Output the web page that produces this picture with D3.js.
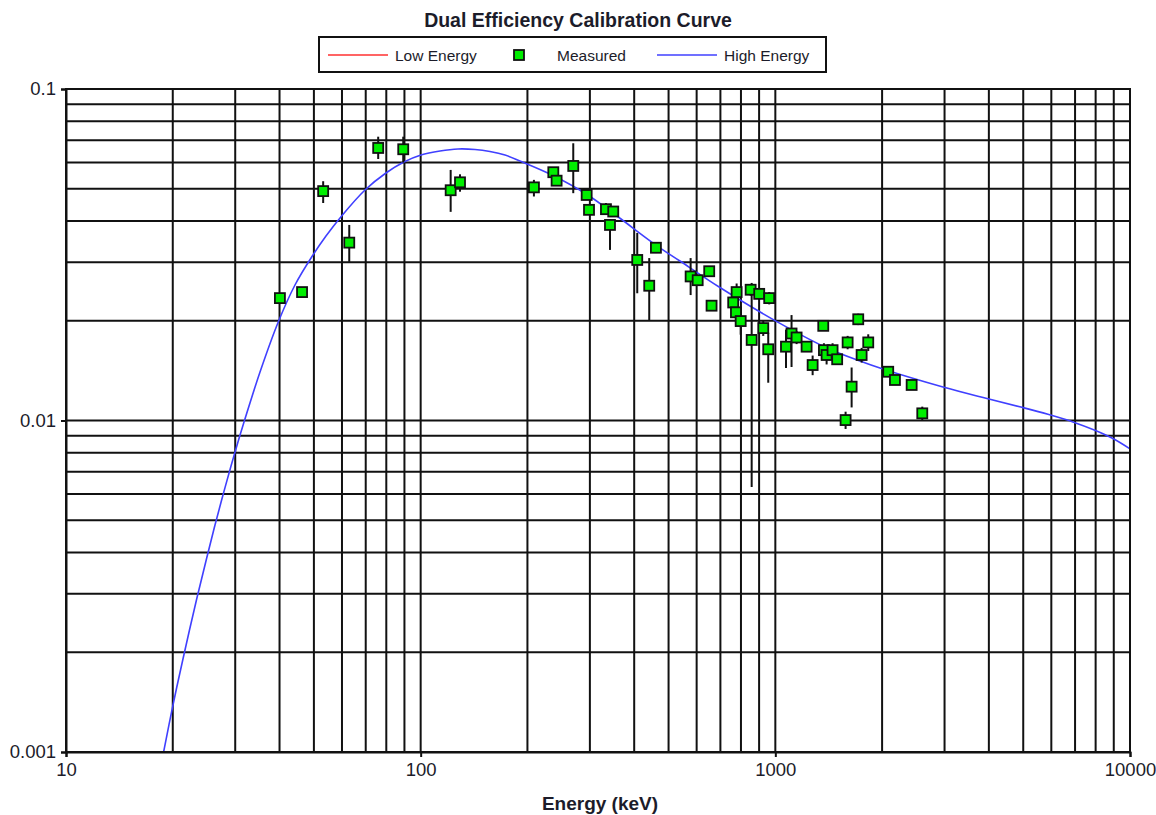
<!DOCTYPE html>
<html><head><meta charset="utf-8">
<script src="https://cdn.jsdelivr.net/npm/d3@7"></script>
<style>body{margin:0;background:#fff}</style>
</head><body>
<svg id="chart" width="1156" height="815"></svg>
<script>
// ---------- data ----------
const chartTitle = "Dual Efficiency Calibration Curve";
const xAxisTitle = "Energy (keV)";
const legendLabels = ["Low Energy", "Measured", "High Energy"];

const xTickValues = [10, 100, 1000, 10000];
const xTickLabels = ["10", "100", "1000", "10000"];
const yTickValues = [0.001, 0.01, 0.1];
const yTickLabels = ["0.001", "0.01", "0.1"];

// measured points (keV, efficiency, lower / upper uncertainty)
const energies = [40.1, 46.3, 53.1, 62.9, 75.9, 89.3, 121.5, 129.1, 208.6, 236.6, 241.7, 269.3, 293.8, 298.3, 333.0, 349.1, 341.8, 408, 441, 460.6, 577, 604, 651, 661, 760.7, 777.8, 774.4, 798.6, 851.9, 900.6, 961, 924.6, 857.6, 955, 1071.6, 1111, 1148, 1225, 1274, 1365, 1371, 1395, 1450, 1494, 1578, 1599, 1641, 1713, 1751, 1828, 2081, 2174, 2423, 2596];
const efficiencies = [0.0234, 0.0244, 0.0492, 0.0344, 0.0664, 0.0658, 0.0495, 0.0523, 0.0505, 0.0561, 0.0529, 0.0586, 0.0479, 0.0432, 0.0434, 0.0427, 0.0389, 0.0305, 0.0255, 0.0332, 0.0272, 0.0265, 0.0282, 0.0222, 0.0227, 0.0244, 0.0212, 0.01995, 0.0248, 0.0241, 0.0234, 0.0190, 0.0175, 0.0164, 0.0167, 0.0183, 0.0178, 0.0167, 0.0147, 0.0193, 0.0163, 0.01576, 0.0163, 0.0153, 0.01003, 0.0172, 0.01265, 0.0202, 0.01576, 0.0172, 0.01403, 0.01325, 0.0128, 0.01051];
const errMinus = [0.0006, 0.0005, 0.0039, 0.0043, 0.0049, 0.0058, 0.0069, 0.0033, 0.0031, 0.0015, 0.0015, 0.0101, 0.0015, 0.0015, 0.0015, 0.0012, 0.0062, 0.0063, 0.0054, 0.0012, 0.0033, 0.0008, 0.0008, 0.0008, 0.0015, 0.0015, 0.0020, 0.0018, 0.0010, 0.0010, 0.0010, 0.0010, 0.0112, 0.0034, 0.0023, 0.0038, 0.0008, 0.0006, 0.0010, 0.0005, 0.0008, 0.0010, 0.0008, 0.0005, 0.0006, 0.0008, 0.0017, 0.0008, 0.0008, 0.0010, 0.0004, 0.0004, 0.0004, 0.0005];
const errPlus = [0.0006, 0.0005, 0.0035, 0.0045, 0.0054, 0.0060, 0.0075, 0.0030, 0.0027, 0.0015, 0.0015, 0.0100, 0.0015, 0.0015, 0.0019, 0.0012, 0.0015, 0.0063, 0.0054, 0.0012, 0.0037, 0.0008, 0.0008, 0.0008, 0.0015, 0.0015, 0.0020, 0.0018, 0.0010, 0.0010, 0.0010, 0.0010, 0.0085, 0.0020, 0.0021, 0.0025, 0.0008, 0.0006, 0.0010, 0.0005, 0.0008, 0.0010, 0.0008, 0.0005, 0.0006, 0.0008, 0.0018, 0.0008, 0.0008, 0.0010, 0.0004, 0.0004, 0.0004, 0.0005];

// high-energy fit curve
const curveEnergies = [18.81, 20.03, 21.37, 23.36, 24.93, 26.31, 27.71, 29.19, 30.54, 31.61, 35.24, 39.67, 44.22, 49.28, 54.08, 59.87, 69.67, 79.82, 89.72, 100.2, 113.4, 127.4, 142.3, 156.8, 172.9, 190.5, 236.1, 294.4, 357.6, 460.6, 538.3, 698.0, 1010, 1398, 1732, 2011, 2969, 3950, 4957, 5869, 6903, 7962, 8949, 10000];
const curveEfficiencies = [0.00099, 0.001386, 0.001908, 0.002894, 0.003847, 0.004839, 0.005958, 0.007291, 0.008612, 0.009726, 0.01400, 0.01982, 0.02563, 0.03113, 0.03601, 0.04139, 0.04958, 0.05580, 0.06022, 0.06321, 0.06500, 0.06592, 0.06569, 0.06478, 0.06321, 0.06064, 0.05484, 0.04806, 0.04139, 0.03383, 0.03028, 0.02519, 0.01987, 0.01655, 0.01512, 0.01430, 0.01262, 0.01165, 0.01096, 0.01044, 0.00990, 0.00934, 0.00882, 0.00821];

// ---------- drawing ----------
(function () {
const FONT = "'Liberation Sans', Arial, sans-serif";
const svg = d3.select("#chart");
const W = 1156, H = 815;
const pL = 66, pR = 1130, pT = 89, pB = 752;

const x = d3.scaleLog().domain([10, 10000]).range([pL, pR]);
const y = d3.scaleLog().domain([0.001, 0.1]).range([pB, pT]);

svg.append("rect").attr("width", W).attr("height", H).attr("fill", "#fff");

// grid
const gridG = svg.append("g");
gridG.selectAll("line.vx").data(x.ticks()).join("line").attr("class", "vx")
  .attr("x1", d => x(d)).attr("x2", d => x(d))
  .attr("y1", pT).attr("y2", pB)
  .attr("stroke", "#111").attr("stroke-width", 2);
gridG.selectAll("line.hy").data(y.ticks()).join("line").attr("class", "hy")
  .attr("y1", d => y(d)).attr("y2", d => y(d))
  .attr("x1", pL).attr("x2", pR)
  .attr("stroke", "#111").attr("stroke-width", 2);

// axes (major ticks, labels)
const xAxis = d3.axisBottom(x).tickValues(xTickValues)
  .tickFormat((d, i) => xTickLabels[i]).tickSize(5).tickPadding(6);
const gx = svg.append("g").attr("transform", `translate(0,${pB})`).call(xAxis);
const yAxis = d3.axisLeft(y).tickValues(yTickValues)
  .tickFormat((d, i) => yTickLabels[i]).tickSize(5).tickPadding(5);
const gy = svg.append("g").attr("transform", `translate(${pL},0)`).call(yAxis);
[gx, gy].forEach(g => {
  g.select(".domain").attr("stroke", "#111").attr("stroke-width", 2);
  g.selectAll(".tick line").attr("stroke", "#111").attr("stroke-width", 2);
  g.selectAll("text").attr("font-family", FONT).attr("font-size", 18.5).attr("fill", "#1c1c2a");
});

// clip
svg.append("clipPath").attr("id", "plotclip").append("rect")
  .attr("x", pL).attr("y", pT).attr("width", pR - pL).attr("height", pB - pT);

// curve
const curvePts = curveEnergies.map((e, i) => [e, curveEfficiencies[i]]);
svg.append("path").datum(curvePts)
  .attr("clip-path", "url(#plotclip)")
  .attr("fill", "none").attr("stroke", "#4040ff").attr("stroke-width", 1.6)
  .attr("d", d3.line().x(d => x(d[0])).y(d => y(d[1])).curve(d3.curveCatmullRom.alpha(0.5)));

// error bars
const pts = energies.map((e, i) => ({ e, v: efficiencies[i], lo: efficiencies[i] - errMinus[i], hi: efficiencies[i] + errPlus[i] }));
svg.append("g").selectAll("line").data(pts).join("line")
  .attr("x1", d => x(d.e)).attr("x2", d => x(d.e))
  .attr("y1", d => y(d.lo)).attr("y2", d => y(d.hi))
  .attr("stroke", "#111").attr("stroke-width", 2);

// markers
const ms = 10;
svg.append("g").selectAll("rect").data(pts).join("rect")
  .attr("x", d => x(d.e) - ms / 2).attr("y", d => y(d.v) - ms / 2)
  .attr("width", ms).attr("height", ms)
  .attr("fill", "#00ee00").attr("stroke", "#111").attr("stroke-width", 1.8);

// frame on top
svg.append("rect").attr("x", pL).attr("y", pT).attr("width", pR - pL).attr("height", pB - pT)
  .attr("fill", "none").attr("stroke", "#111").attr("stroke-width", 2);

// titles
svg.append("text").attr("x", 578).attr("y", 27).attr("text-anchor", "middle")
  .attr("font-family", FONT).attr("font-weight", "bold").attr("font-size", 19.5).attr("fill", "#1c1c2a")
  .text(chartTitle);
svg.append("text").attr("x", 600).attr("y", 810).attr("text-anchor", "middle")
  .attr("font-family", FONT).attr("font-weight", "bold").attr("font-size", 19).attr("fill", "#1c1c2a")
  .text(xAxisTitle);

// legend
const lg = svg.append("g");
lg.append("rect").attr("x", 319).attr("y", 37).attr("width", 507).attr("height", 35)
  .attr("fill", "#fff").attr("stroke", "#111").attr("stroke-width", 2);
const legY = 55;
lg.append("line").attr("x1", 328).attr("x2", 388).attr("y1", legY).attr("y2", legY)
  .attr("stroke", "#ff3030").attr("stroke-width", 1.6);
lg.append("rect").attr("x", 519 - ms / 2).attr("y", legY - ms / 2).attr("width", ms).attr("height", ms)
  .attr("fill", "#00ee00").attr("stroke", "#111").attr("stroke-width", 1.8);
lg.append("line").attr("x1", 657).attr("x2", 717).attr("y1", legY).attr("y2", legY)
  .attr("stroke", "#4040ff").attr("stroke-width", 1.6);
const legX = [395, 557, 724];
legendLabels.forEach((t, i) => {
  lg.append("text").attr("x", legX[i]).attr("y", legY + 5.5)
    .attr("font-family", FONT).attr("font-size", 15.5).attr("fill", "#1c1c2a").text(t);
});
})();
</script>
</body></html>
